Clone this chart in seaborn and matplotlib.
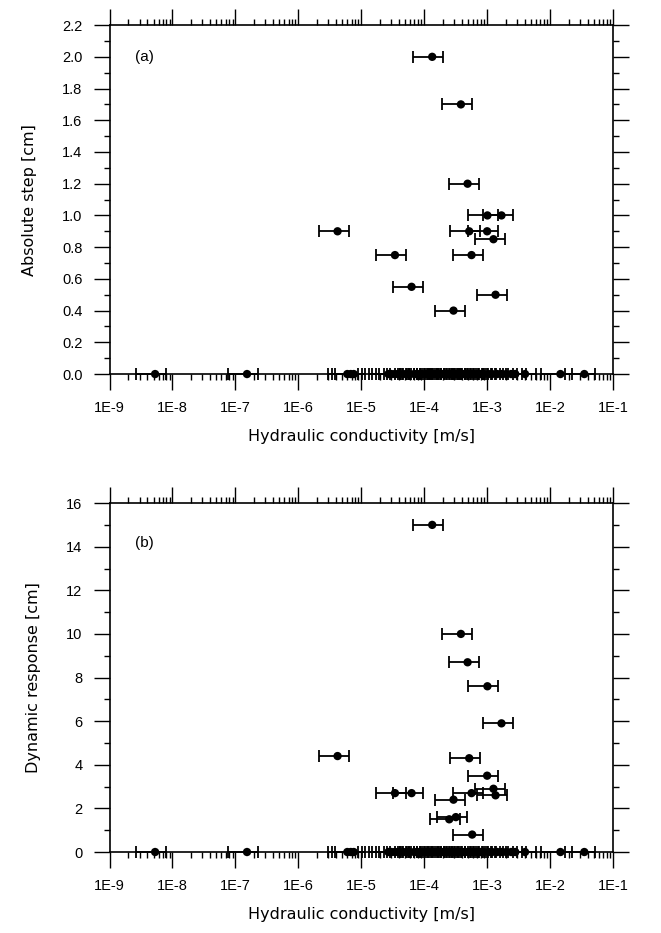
# -*- coding: utf-8 -*-
# Step size and dynamic response against hydraulic conductivity, two panels

import numpy as np
import pandas as pd
import matplotlib
matplotlib.use("Agg")
import matplotlib.pyplot as plt
from matplotlib.ticker import LogLocator, NullFormatter, MultipleLocator
import seaborn as sns

sns.set_theme(style="ticks")
plt.rcParams['font.family'] = ['Liberation Sans', 'DejaVu Sans']
# plain black text, like the original plot
for key in ['text.color', 'axes.labelcolor', 'xtick.color', 'ytick.color']:
    plt.rcParams[key] = 'black'

# Sites with a non-zero value in at least one panel
k_sites = [1.34e-4, 3.83e-4, 4.89e-4, 1.01e-3, 1.69e-3, 4.2e-6, 5.19e-4, 1.0e-3,
           1.26e-3, 3.43e-5, 5.65e-4, 6.3e-5, 1.36e-3, 2.92e-4, 3.18e-4, 2.5e-4, 5.78e-4]
step_sites = [2.0, 1.7, 1.2, 1.0, 1.0, 0.9, 0.9, 0.9,
              0.85, 0.75, 0.75, 0.55, 0.5, 0.4, 0.0, 0.0, 0.0]
dyn_sites = [15.0, 10.0, 8.7, 7.6, 5.9, 4.4, 4.3, 3.5,
             2.9, 2.7, 2.7, 2.7, 2.6, 2.4, 1.6, 1.5, 0.8]

# Sites with zero in both panels
k_zero = [5.3e-9, 1.53e-7, 6.0e-6, 6.8e-6, 7.6e-6, 2.7e-5, 3.0e-5, 3.4e-5, 3.8e-5,
          4.6e-5, 5.2e-5, 5.8e-5, 6.9e-5, 7.6e-5, 8.4e-5, 9.2e-5, 1.05e-4, 1.15e-4,
          1.25e-4, 1.4e-4, 1.55e-4, 1.7e-4, 1.85e-4, 2.0e-4, 2.2e-4, 2.4e-4, 2.7e-4,
          3.0e-4, 3.3e-4, 3.7e-4, 4.1e-4, 4.5e-4, 5.0e-4, 5.6e-4, 6.2e-4, 7.0e-4,
          7.8e-4, 8.8e-4, 1.05e-3, 1.2e-3, 1.45e-3, 1.7e-3, 2.0e-3, 2.4e-3, 2.8e-3,
          4.0e-3, 1.46e-2, 3.5e-2]

x_ticks = [1e-9, 1e-8, 1e-7, 1e-6, 1e-5, 1e-4, 1e-3, 1e-2, 1e-1]
x_ticklabels = ["1E-9", "1E-8", "1E-7", "1E-6", "1E-5", "1E-4", "1E-3", "1E-2", "1E-1"]

k_all = k_sites + k_zero
step_all = step_sites + [0.0] * len(k_zero)
dyn_all = dyn_sites + [0.0] * len(k_zero)

data = pd.DataFrame({"K": k_all, "step": step_all, "dyn": dyn_all})

label_font = ['DejaVu Sans']


def draw_panel(ax, col, ymax, ystep, yminor, yfmt, ylabel, tag, tag_y):
    ax.set_xscale("log")
    # +/- 50 % error bars on conductivity
    eb = ax.errorbar(data["K"], data[col], xerr=0.5 * data["K"], fmt="none",
                     ecolor="black", elinewidth=1.3, capsize=4.3, capthick=1.3,
                     zorder=3, clip_on=False)
    for child in eb.get_children():
        child.set_clip_on(False)
    sns.scatterplot(data=data, x="K", y=col, ax=ax, color="black", s=36,
                    edgecolor="none", zorder=4, clip_on=False, legend=False)

    ax.set_xlim(1e-9, 1e-1)
    ax.set_ylim(0, ymax)
    ax.set_xticks(x_ticks)
    ax.set_xticklabels(x_ticklabels)
    ax.xaxis.set_minor_locator(LogLocator(base=10, subs=np.arange(2, 10), numticks=100))
    ax.xaxis.set_minor_formatter(NullFormatter())
    yt = np.arange(0, ymax + ystep / 2, ystep)
    ax.set_yticks(yt)
    ax.set_yticklabels([yfmt % v for v in yt])
    ax.yaxis.set_minor_locator(MultipleLocator(yminor))

    ax.tick_params(which="major", direction="out", length=11.5, width=1.0,
                   top=True, right=True, labelsize=10.5, pad=8, color="black")
    ax.tick_params(which="minor", direction="out", length=4.5, width=1.0,
                   top=True, right=True, color="black")
    for s in ax.spines.values():
        s.set_linewidth(1.2)
        s.set_color("black")

    ax.set_xlabel("Hydraulic conductivity [m/s]", fontsize=11.5, labelpad=10,
                  family=label_font)
    ax.set_ylabel(ylabel, fontsize=11.5, labelpad=18, family=label_font)
    ax.text(0.07, tag_y, tag, transform=ax.transAxes, fontsize=11,
            ha="center", va="center")


fig = plt.figure(figsize=(6.61, 9.33), dpi=100)
ax1 = fig.add_axes([0.1657, 0.5991, 0.7617, 0.374])
ax2 = fig.add_axes([0.1657, 0.0868, 0.7617, 0.374])

draw_panel(ax1, "step", 2.2, 0.2, 0.1, "%.1f", "Absolute step [cm]", "(a)", 0.908)
draw_panel(ax2, "dyn", 16, 2, 1, "%d", "Dynamic response [cm]", "(b)", 0.885)

fig.savefig("out.png", dpi=100)
